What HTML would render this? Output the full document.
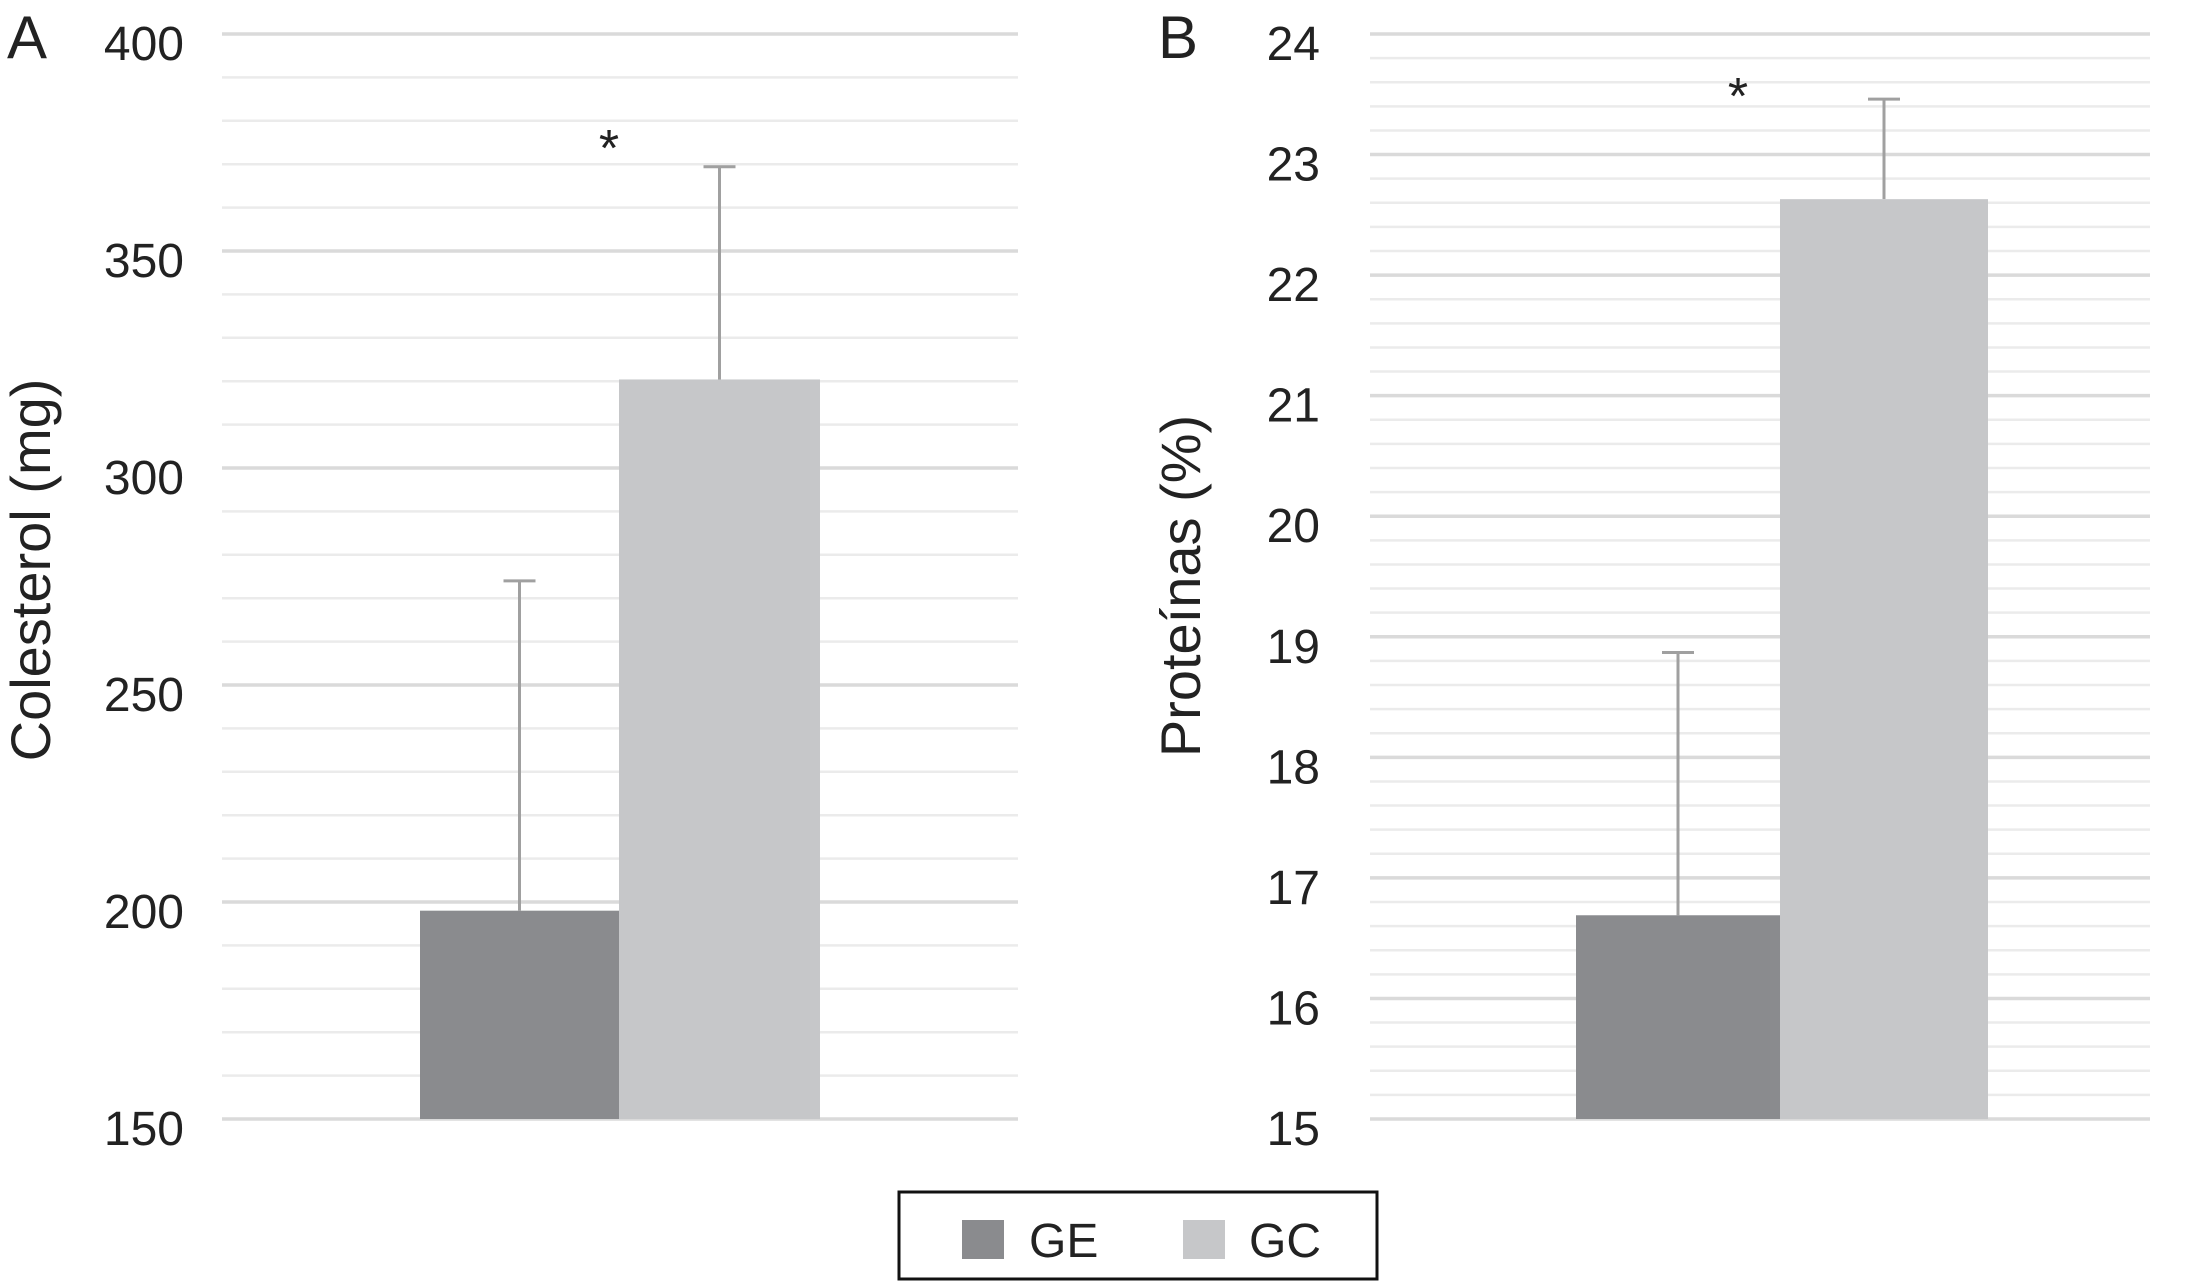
<!DOCTYPE html>
<html><head><meta charset="utf-8"><style>
html,body{margin:0;padding:0;background:#fff;}
svg{display:block;font-family:"Liberation Sans",Arial,sans-serif;}
</style></head><body>
<svg id="c" width="2201" height="1282" viewBox="0 0 2201 1282"></svg>
<script>
const categories=["GE","GC"];
const colA_values=[198,320.4];
const colA_errors=[76,49];
const protB_values=[16.69,22.63];
const protB_errors=[2.18,0.83];
const ticksA=[150,200,250,300,350,400];
const ticksB=[15,16,17,18,19,20,21,22,23,24];
const colors=["#8a8b8e","#c6c7c9"];
const NS="http://www.w3.org/2000/svg";
const svg=document.getElementById('c');
function mk(t,a,p){const e=document.createElementNS(NS,t);for(const k in a)e.setAttribute(k,a[k]);(p||svg).appendChild(e);return e;}
function panel(o){
  const g=mk('g',{});
  
  
  const y=v=>o.y1-(v-o.min)/(o.max-o.min)*(o.y1-o.y0);
  for(let v=o.min;v<=o.max+1e-9;v+=o.minor){
    const l=mk('line',{x1:o.gx0,x2:o.gx1,y1:y(v),y2:y(v),stroke:'#ebebeb','stroke-width':2.5},g);
    
    
  }
  o.ticks.forEach(v=>{
    const l=mk('line',{x1:o.gx0,x2:o.gx1,y1:y(v),y2:y(v),stroke:'#dadada','stroke-width':3.5},g);
    
    
    const t=mk('text',{x:o.tx,y:y(v)+26,'text-anchor':'end','font-size':48,fill:'#222'},g);
    t.textContent=v;
    
    
  });
  o.vals.forEach((v,i)=>{
    const x0=o.bx[i],x1=o.bx[i+1],cx=(x0+x1)/2;
    const e=mk('line',{x1:cx,x2:cx,y1:y(v),y2:y(v+o.errs[i]),stroke:'#a0a0a0','stroke-width':3},g);
    
    
    const c=mk('line',{x1:cx-16,x2:cx+16,y1:y(v+o.errs[i]),y2:y(v+o.errs[i]),stroke:'#a0a0a0','stroke-width':3},g);
    
    
    const r=mk('rect',{x:x0,y:y(v),width:x1-x0,height:o.y1-y(v),fill:colors[i]},g);
    
    
  });
  const s=mk('text',{x:o.ax,y:o.ay,'text-anchor':'middle','font-size':52,fill:'#222'},g);
  s.textContent='*';
  
  
  const ti=mk('text',{x:0,y:0,'text-anchor':'middle','font-size':56,fill:'#222',transform:`translate(${o.titx},${o.tity}) rotate(-90)`},g);
  ti.textContent=o.title;
  
  
  const L=mk('text',{x:o.lx,y:58,'font-size':60,fill:'#222'},g);
  L.textContent=o.letter;
  
  
}
panel({name:'panel-a-colesterol',min:150,max:400,minor:10,ticks:ticksA,vals:colA_values,errs:colA_errors,
  y0:34,y1:1119,gx0:222,gx1:1018,tx:184,bx:[420,619,820],ax:609,ay:166,titx:50,tity:570,title:'Colesterol (mg)',lx:7,letter:'A'});
panel({name:'panel-b-proteinas',min:15,max:24,minor:0.2,ticks:ticksB,vals:protB_values,errs:protB_errors,
  y0:34,y1:1119,gx0:1370,gx1:2150,tx:1320,bx:[1576,1780,1988],ax:1738,ay:114,titx:1200,tity:586,title:'Proteínas (%)',lx:1158,letter:'B'});
const lg=mk('g',{});


mk('rect',{x:899,y:1192,width:478,height:87,fill:'#fff',stroke:'#111','stroke-width':3},lg);
[[962,1029],[1183,1249]].forEach((p,i)=>{
  const r=mk('rect',{x:p[0],y:1220,width:42,height:39,fill:colors[i]},lg);
  
  
  const t=mk('text',{x:p[1],y:1257,'font-size':48,fill:'#222'},lg);
  t.textContent=categories[i];
  
  
});
</script>
</body></html>
